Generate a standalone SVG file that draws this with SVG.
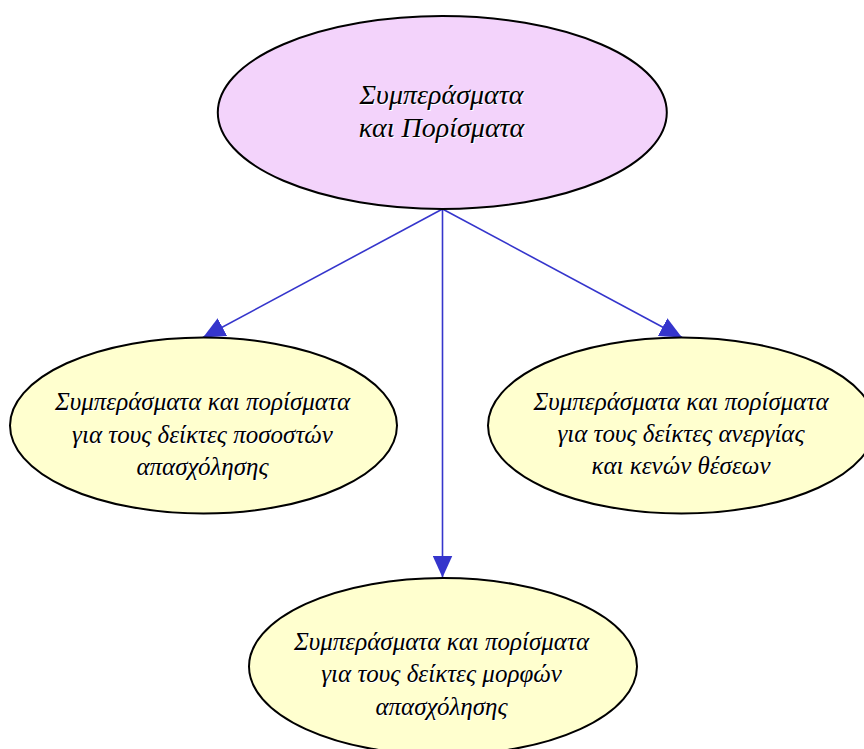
<svg xmlns="http://www.w3.org/2000/svg" width="864" height="749" viewBox="0 0 864 749">
<defs>
<style>
.n{stroke:#000;stroke-width:2}
.top{fill:#f3d3fb}
.leaf{fill:#ffffcf}
.t{font-family:"Liberation Serif","DejaVu Serif",serif;font-style:italic;font-size:25px;text-anchor:middle}
.big{font-size:28px}
.sh{fill:#fff}
.fg{fill:#000}
.e{stroke:#3535cc;stroke-width:1.6;fill:none}
</style>
<marker id="ah" markerUnits="userSpaceOnUse" markerWidth="22" markerHeight="20" refX="22" refY="10" orient="auto" viewBox="0 0 22 20">
<path d="M0,0 L22,10 L0,20 z" fill="#3535cc"/>
</marker>
</defs>
<rect width="864" height="749" fill="#fff"/>
<g id="connectors">
<line class="e" x1="442.5" y1="209" x2="203" y2="337.5" marker-end="url(#ah)"/>
<line class="e" x1="442.5" y1="209" x2="682" y2="337.5" marker-end="url(#ah)"/>
<line class="e" x1="442.5" y1="209" x2="442.5" y2="577.5" marker-end="url(#ah)"/>
</g>
<g id="root">
<ellipse class="n top" cx="442.3" cy="112.5" rx="224.5" ry="96.5"/>
<g class="t big sh" transform="translate(1,1)"><text x="441.5" y="103.5">Συμπεράσματα</text><text x="441.5" y="137">και Πορίσματα</text></g>
<g class="t big fg"><text x="441.5" y="103.5">Συμπεράσματα</text><text x="441.5" y="137">και Πορίσματα</text></g>
</g>
<g id="employment-rates">
<ellipse class="n leaf" cx="203.5" cy="425.5" rx="193.5" ry="88"/>
<g class="t sh" transform="translate(1,1)"><text x="202.5" y="410">Συμπεράσματα και πορίσματα</text><text x="202.5" y="442.5">για τους δείκτες ποσοστών</text><text x="202.5" y="475">απασχόλησης</text></g>
<g class="t fg"><text x="202.5" y="410">Συμπεράσματα και πορίσματα</text><text x="202.5" y="442.5">για τους δείκτες ποσοστών</text><text x="202.5" y="475">απασχόλησης</text></g>
</g>
<g id="unemployment">
<ellipse class="n leaf" cx="681.5" cy="425.5" rx="193.5" ry="88"/>
<g class="t sh" transform="translate(1,1)"><text x="681" y="409.5">Συμπεράσματα και πορίσματα</text><text x="681" y="442">για τους δείκτες ανεργίας</text><text x="681" y="474">και κενών θέσεων</text></g>
<g class="t fg"><text x="681" y="409.5">Συμπεράσματα και πορίσματα</text><text x="681" y="442">για τους δείκτες ανεργίας</text><text x="681" y="474">και κενών θέσεων</text></g>
</g>
<g id="employment-forms">
<ellipse class="n leaf" cx="443" cy="666.5" rx="194" ry="88.5"/>
<g class="t sh" transform="translate(1,1)"><text x="441.5" y="650">Συμπεράσματα και πορίσματα</text><text x="441.5" y="682">για τους δείκτες μορφών</text><text x="441.5" y="715">απασχόλησης</text></g>
<g class="t fg"><text x="441.5" y="650">Συμπεράσματα και πορίσματα</text><text x="441.5" y="682">για τους δείκτες μορφών</text><text x="441.5" y="715">απασχόλησης</text></g>
</g>
</svg>
